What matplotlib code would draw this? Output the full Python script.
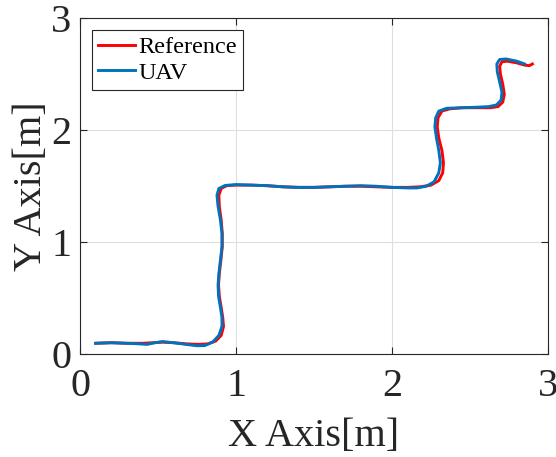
import numpy as np
import matplotlib
matplotlib.use('Agg')
import matplotlib.pyplot as plt

# reference trajectory (red)
ref_x = [0.10, 0.20, 0.30, 0.40, 0.47, 0.53, 0.60, 0.68, 0.76, 0.82, 0.87, 0.905, 0.92, 0.915,
         0.905, 0.893, 0.888, 0.893, 0.903, 0.912, 0.912, 0.905, 0.893, 0.89, 0.905, 0.94, 1.00,
         1.10, 1.20, 1.30, 1.40, 1.50, 1.60, 1.70, 1.80, 1.90, 2.00, 2.10, 2.18, 2.25, 2.30,
         2.325, 2.33, 2.32, 2.30, 2.29, 2.295, 2.32, 2.37, 2.45, 2.55, 2.63, 2.68, 2.71, 2.72,
         2.71, 2.695, 2.69, 2.705, 2.74, 2.80, 2.85, 2.88, 2.90]
ref_y = [0.10, 0.105, 0.10, 0.10, 0.105, 0.11, 0.105, 0.095, 0.09, 0.095, 0.12, 0.17, 0.25, 0.33,
         0.42, 0.52, 0.62, 0.72, 0.84, 0.96, 1.08, 1.20, 1.32, 1.42, 1.48, 1.505, 1.51,
         1.51, 1.505, 1.495, 1.49, 1.49, 1.495, 1.50, 1.50, 1.495, 1.49, 1.49, 1.495, 1.51, 1.55,
         1.62, 1.71, 1.82, 1.93, 2.03, 2.11, 2.17, 2.19, 2.20, 2.20, 2.20, 2.21, 2.25, 2.32,
         2.41, 2.50, 2.57, 2.61, 2.615, 2.60, 2.58, 2.575, 2.59]

# UAV trajectory (blue)
uav_x = [0.10, 0.20, 0.30, 0.38, 0.43, 0.48, 0.53, 0.60, 0.68, 0.75, 0.80, 0.85, 0.89, 0.91,
         0.91, 0.90, 0.888, 0.885, 0.89, 0.90, 0.91, 0.91, 0.90, 0.885, 0.878, 0.89, 0.93, 1.00,
         1.10, 1.20, 1.30, 1.40, 1.50, 1.60, 1.70, 1.80, 1.90, 2.00, 2.10, 2.16, 2.22, 2.27,
         2.30, 2.31, 2.30, 2.285, 2.275, 2.28, 2.30, 2.35, 2.45, 2.55, 2.62, 2.67, 2.70, 2.705,
         2.69, 2.675, 2.672, 2.69, 2.73, 2.80, 2.85]
uav_y = [0.10, 0.105, 0.10, 0.095, 0.09, 0.105, 0.115, 0.105, 0.09, 0.078, 0.08, 0.11, 0.17, 0.25,
         0.33, 0.42, 0.52, 0.62, 0.72, 0.84, 0.96, 1.08, 1.20, 1.32, 1.42, 1.48, 1.507, 1.515,
         1.51, 1.505, 1.495, 1.49, 1.49, 1.495, 1.50, 1.505, 1.50, 1.49, 1.485, 1.485, 1.50, 1.54,
         1.62, 1.71, 1.82, 1.93, 2.03, 2.11, 2.17, 2.195, 2.20, 2.205, 2.21, 2.225, 2.27, 2.34,
         2.43, 2.52, 2.59, 2.63, 2.635, 2.615, 2.59]

ticks = [0, 1, 2, 3]

plt.rcParams['font.family'] = ['Liberation Serif', 'DejaVu Serif']

fig = plt.figure(figsize=(5.56, 4.57), dpi=100)
ax = fig.add_axes([0.1439, 0.2243, 0.8417, 0.7363])

ax.plot(ref_x, ref_y, color='#FF0000', lw=2.1, label='Reference', solid_joinstyle='round')
ax.plot(uav_x, uav_y, color='#0072BD', lw=2.1, label='UAV', solid_joinstyle='round')

ax.set_xlim(0, 3)
ax.set_ylim(0, 3)
ax.set_xticks(ticks)
ax.set_yticks(ticks)
ax.grid(True, color='#DFDFDF', lw=0.8)
ax.set_axisbelow(True)

for s in ax.spines.values():
    s.set_color('#262626')
    s.set_linewidth(0.8)
ax.tick_params(direction='in', length=5, width=0.8, colors='#262626', labelsize=29,
               top=True, right=True, pad=6)
ax.tick_params(axis='x', pad=10)
ax.set_xlabel('X Axis[m]', fontsize=29, color='#262626', labelpad=9)
ax.set_ylabel('Y Axis[m]', fontsize=29, color='#262626', labelpad=1)

leg = ax.legend(loc='upper left', fontsize=17.5, frameon=True, fancybox=False,
                edgecolor='#262626', framealpha=1, handlelength=1.5, handletextpad=0.15,
                labelspacing=0.15, borderpad=0.25, borderaxespad=0.5)
leg.get_frame().set_linewidth(0.8)

fig.savefig('out.png', dpi=100)
